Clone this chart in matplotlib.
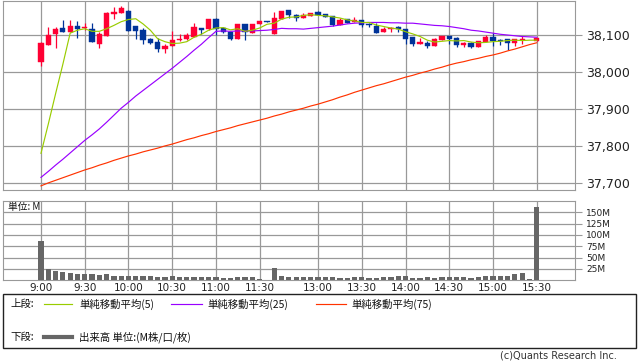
import numpy as np
import matplotlib
matplotlib.use("Agg")
import matplotlib.pyplot as plt
from matplotlib.lines import Line2D
from matplotlib.patches import Rectangle

# 5-minute candles, slot 0 = 9:00 ... slot 68 = 15:30 (slot 67 has no trade)
opens = [38028, 38073, 38103, 38118, 38107, 38124, 38120, 38116, 38077, 38098,
         38157, 38160, 38165, 38125, 38113, 38088, 38082, 38062, 38071, 38087,
         38088, 38094, 38118, 38115, 38143, 38118, 38109, 38089, 38130, 38106,
         38130, 38138, 38103, 38142, 38168, 38154, 38145, 38151, 38163, 38157,
         38151, 38127, 38143, 38136, 38141, 38129, 38125, 38107, 38116, 38122,
         38115, 38094, 38077, 38079, 38071, 38087, 38097, 38091, 38073, 38079,
         38068, 38082, 38095, 38087, 38088, 38079, 38087, np.nan, 38085]
highs = [38080, 38121, 38122, 38141, 38141, 38138, 38132, 38132, 38109, 38163,
         38175, 38179, 38169, 38125, 38118, 38093, 38091, 38077, 38111, 38102,
         38105, 38132, 38118, 38143, 38145, 38121, 38109, 38131, 38131, 38131,
         38139, 38138, 38163, 38166, 38169, 38156, 38159, 38160, 38164, 38157,
         38151, 38145, 38143, 38150, 38141, 38133, 38132, 38122, 38122, 38125,
         38116, 38094, 38091, 38084, 38091, 38098, 38098, 38094, 38082, 38082,
         38085, 38100, 38105, 38089, 38089, 38090, 38097, np.nan, 38092]
lows = [38017, 38073, 38066, 38107, 38107, 38093, 38113, 38081, 38066, 38097,
        38143, 38160, 38112, 38089, 38077, 38075, 38053, 38052, 38071, 38084,
        38087, 38094, 38103, 38114, 38100, 38105, 38087, 38089, 38087, 38106,
        38129, 38136, 38103, 38142, 38145, 38139, 38145, 38151, 38153, 38148,
        38124, 38127, 38132, 38136, 38122, 38121, 38106, 38107, 38107, 38107,
        38077, 38071, 38077, 38064, 38071, 38087, 38076, 38068, 38068, 38064,
        38068, 38082, 38071, 38073, 38059, 38071, 38076, np.nan, 38084]
closes = [38079, 38100, 38116, 38107, 38125, 38116, 38122, 38082, 38103, 38160,
          38163, 38174, 38112, 38112, 38087, 38079, 38062, 38071, 38087, 38089,
          38100, 38121, 38114, 38143, 38115, 38109, 38089, 38130, 38109, 38130,
          38138, 38136, 38147, 38165, 38154, 38145, 38154, 38159, 38154, 38150,
          38127, 38141, 38133, 38141, 38127, 38126, 38106, 38115, 38120, 38115,
          38089, 38077, 38080, 38071, 38088, 38097, 38089, 38073, 38079, 38068,
          38084, 38095, 38085, 38083, 38079, 38089, 38089, np.nan, 38091]

ma5 = [37780, 37859, 37941, 38021, 38105, 38113, 38117, 38110, 38110, 38117,
       38126, 38136, 38142, 38144, 38130, 38113, 38090, 38082, 38077, 38078,
       38082, 38094, 38102, 38113, 38119, 38120, 38114, 38117, 38110, 38113,
       38119, 38129, 38132, 38143, 38148, 38149, 38153, 38155, 38153, 38152,
       38149, 38146, 38141, 38138, 38134, 38134, 38127, 38123, 38119, 38116,
       38109, 38103, 38096, 38086, 38081, 38083, 38085, 38084, 38085, 38081,
       38079, 38080, 38082, 38083, 38085, 38086, 38085, 38086, 38086]
ma25 = [37715, 37731, 37748, 37764, 37781, 37798, 37815, 37830, 37846, 37864,
        37883, 37902, 37918, 37935, 37950, 37965, 37980, 37995, 38010, 38026,
        38042, 38059, 38075, 38093, 38110, 38111, 38110, 38111, 38111, 38111,
        38112, 38113, 38115, 38118, 38117, 38117, 38116, 38118, 38120, 38122,
        38124, 38127, 38130, 38132, 38133, 38134, 38134, 38134, 38133, 38133,
        38132, 38132, 38130, 38128, 38126, 38125, 38123, 38120, 38117, 38113,
        38111, 38108, 38105, 38102, 38100, 38098, 38096, 38095, 38094]
ma75 = [37692, 37700, 37707, 37714, 37721, 37728, 37735, 37741, 37748, 37754,
        37761, 37767, 37773, 37778, 37784, 37789, 37794, 37800, 37805, 37811,
        37817, 37822, 37828, 37833, 37839, 37844, 37849, 37855, 37860, 37865,
        37870, 37875, 37881, 37886, 37892, 37897, 37902, 37908, 37913, 37919,
        37925, 37932, 37938, 37945, 37951, 37957, 37963, 37968, 37974, 37980,
        37986, 37991, 37997, 38002, 38008, 38013, 38019, 38024, 38028, 38033,
        38037, 38042, 38046, 38051, 38057, 38062, 38068, 38074, 38079]

# volume in millions
volume = [87, 24, 21, 19, 17, 14.5, 14.5, 14, 12.5, 14.5,
          10, 10, 10, 10, 10.5, 10.5, 8, 8, 10, 8,
          8, 8, 8, 8, 8, 6, 6, 8, 8, 8,
          3.5, 0, 27.5, 10, 7.2, 7.2, 7.2, 7.2, 7.2, 7.2,
          7.2, 5, 5, 7.2, 7.2, 5, 5, 7.2, 7.2, 9.4,
          9.4, 5, 5, 7.2, 5, 7.2, 7.2, 7.2, 7.2, 5,
          7.2, 9.4, 9.4, 9.4, 9.4, 14, 16.7, 2, 162]

tick_slots = [0, 6, 12, 18, 24, 30, 38, 44, 50, 56, 62, 68]
tick_labels = ['9:00', '9:30', '10:00', '10:30', '11:00', '11:30',
               '13:00', '13:30', '14:00', '14:30', '15:00', '15:30']
price_ticks = [37700, 37800, 37900, 38000, 38100]
vol_ticks = [25, 50, 75, 100, 125, 150]

UP = '#ff0033'
DOWN = '#003399'
GRID = '#999999'
JP = ['Noto Sans CJK JP', 'DejaVu Sans']

W, H = 638, 362
fig = plt.figure(figsize=(W / 100, H / 100), dpi=100)


def box(x0, y0, x1, y1):
    # pixel box (top-left origin) -> figure fraction rect
    return [x0 / W, 1 - y1 / H, (x1 - x0) / W, (y1 - y0) / H]


ax = fig.add_axes(box(3.3, 1, 575, 190.3))
axv = fig.add_axes(box(3.3, 201, 575, 280.3), sharex=ax)

x = np.arange(len(closes))
o = np.array(opens)
c = np.array(closes)
up = c >= o
cols = np.where(up, UP, DOWN)
bottom = np.minimum(o, c)
height = np.maximum(np.abs(c - o), 1.2)

ax.vlines(x, lows, highs, colors=cols, linewidth=0.9, zorder=3)
ax.bar(x, height, bottom=bottom, width=0.72, color=cols, edgecolor=cols,
       linewidth=0.3, zorder=4)

ax.plot(x, ma75, color='#ff3300', lw=0.85, zorder=5)
ax.plot(x, ma25, color='#9900ff', lw=0.85, zorder=5)
ax.plot(x, ma5, color='#99cc00', lw=0.85, zorder=5)

ax.set_xlim(-5.17, 73.25)
ax.set_ylim(37680, 38192)
ax.set_yticks(price_ticks)
ax.set_yticklabels([f'{v:,}' for v in price_ticks])
ax.yaxis.tick_right()
ax.tick_params(axis='y', length=5, color=GRID, labelsize=9, labelcolor='#222222', pad=3)
ax.tick_params(axis='x', length=0, labelbottom=False)
ax.set_xticks(tick_slots)
ax.grid(True, color=GRID, linewidth=0.9)
ax.set_axisbelow(True)
for s in ax.spines.values():
    s.set_color(GRID)

axv.bar(x, volume, width=0.72, color='#666666', zorder=3)
axv.set_ylim(0, 175)
axv.set_yticks(vol_ticks)
axv.set_yticklabels([f'{v}M' for v in vol_ticks])
axv.yaxis.tick_right()
axv.tick_params(axis='y', length=5, color=GRID, labelsize=6.5, labelcolor='#222222', pad=3)
axv.set_xticks(tick_slots)
axv.set_xticklabels(tick_labels)
axv.tick_params(axis='x', length=0, labelsize=7.5, labelcolor='#222222', pad=2)
axv.grid(True, color=GRID, linewidth=0.9)
axv.set_axisbelow(True)
for s in axv.spines.values():
    s.set_color(GRID)
axv.text(0.008, 0.99, '単位: M', transform=axv.transAxes, ha='left', va='top',
         fontsize=7, family=JP, color='#111111')

# legend box
fig.add_artist(Rectangle((3 / W, 1 - 348 / H), 633 / W, 54 / H, transform=fig.transFigure,
                         fill=False, edgecolor='#222222', linewidth=1.0))


def leg_line(x0, x1, y, color, lw):
    fig.add_artist(Line2D([x0 / W, x1 / W], [1 - y / H, 1 - y / H],
                          transform=fig.transFigure, color=color, linewidth=lw))


def leg_text(x0, y, s):
    fig.text(x0 / W, 1 - y / H, s, ha='left', va='center', fontsize=7.5,
             family=JP, color='#111111')


leg_text(10, 304, '上段:')
leg_line(44, 72, 304, '#99cc00', 0.85)
leg_text(79, 304, '単純移動平均(5)')
leg_line(171, 202, 304, '#9900ff', 0.85)
leg_text(207, 304, '単純移動平均(25)')
leg_line(316, 346, 304, '#ff3300', 0.85)
leg_text(351, 304, '単純移動平均(75)')
leg_text(10, 337, '下段:')
leg_line(44, 72, 337, '#666666', 3.0)
leg_text(79, 337, '出来高 単位:(M株/口/枚)')

fig.text(617 / W, 1 - 356 / H, '(c)Quants Research Inc.', ha='right', va='center',
         fontsize=7, color='#333333')

fig.savefig('out.png', dpi=100)
